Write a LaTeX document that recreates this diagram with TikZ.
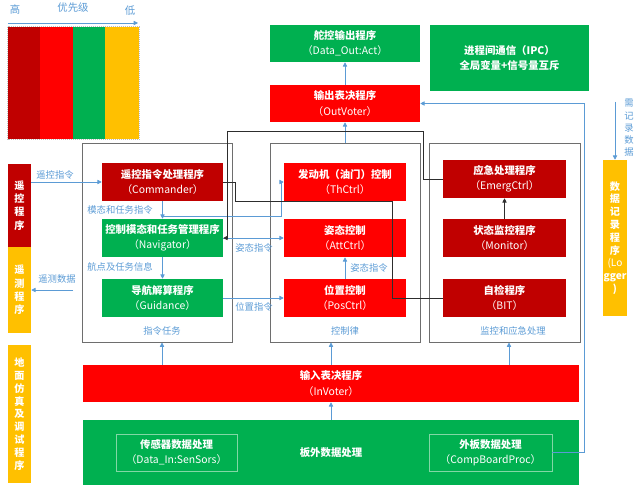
\documentclass[tikz,border=0pt]{standalone}
\usepackage{fontspec}
\setmainfont{Noto Sans CJK SC}
\usetikzlibrary{arrows.meta}
\definecolor{dred}{RGB}{192,0,0}
\definecolor{bred}{RGB}{255,0,0}
\definecolor{grn}{RGB}{0,176,80}
\definecolor{ylw}{RGB}{255,192,0}
\definecolor{lblue}{RGB}{91,155,213}
\definecolor{grpgray}{RGB}{110,110,110}
\definecolor{blk}{RGB}{45,45,45}
\definecolor{inbord}{RGB}{130,215,165}
\newcommand\bx[8][]{\node[boxst,fill=#7,minimum width={(#4-#2)*0.75pt},minimum height={(#5-#3)*0.75pt},#1] (#6) at ({(#2+#4)/2},{(#3+#5)/2}) {#8};}
\newcommand\sub{\mdseries}
\begin{document}
\begin{tikzpicture}[x=0.75pt,y=-0.75pt,
  boxst/.style={rectangle,inner sep=0pt,text=white,align=center,font=\fontsize{7.8}{11.5}\selectfont\bfseries},
  barst/.style={rectangle,inner sep=0pt,text=white,align=center,font=\fontsize{7.6}{10}\selectfont\bfseries},
  grp/.style={rectangle,draw=grpgray,line width=0.75pt,inner sep=0pt,fill=none},
  lbl/.style={text=lblue,font=\fontsize{7}{8}\selectfont,inner sep=0pt},
  barrow/.style={draw=lblue,line width=0.55pt,-{Triangle[width=3.2pt,length=3.2pt]}},
  blkline/.style={draw=blk,line width=0.6pt},
  inbox/.style={draw=inbord,line width=0.6pt}
]
\useasboundingbox (0,0) rectangle (641,495);

% priority legend
\node[lbl,font=\fontsize{7.8}{8}\selectfont] (hi) at (15,10) {高};
\node[lbl,font=\fontsize{7.8}{8}\selectfont] (pri) at (73,8) {优先级};
\node[lbl,font=\fontsize{7.8}{8}\selectfont] (lo) at (130,11) {低};
\coordinate (pa) at (8,23);
\coordinate (pb) at (138,23);
\draw[barrow] (pa) -- (pb);
\bx{8}{27}{40}{139}{p1}{dred}{}
\bx{40}{27}{73}{139}{p2}{bred}{}
\bx{73}{27}{105}{139}{p3}{grn}{}
\bx{105}{27}{139}{139}{p4}{ylw}{}
\draw[gray!50,densely dotted,line width=0.5pt] (p1.north west) rectangle (p4.south east);

% left bars
\bx[barst]{8}{164}{31}{247}{rc}{dred}{遥\\控\\程\\序}
\bx[barst]{8}{247}{31}{333}{tm}{ylw}{遥\\测\\程\\序}
\bx[barst,font=\fontsize{7.6}{9.6}\selectfont\bfseries]{8}{345}{31}{483}{gs}{ylw}{地\\面\\仿\\真\\及\\调\\试\\程\\序}

% logger bar
\bx[barst,font=\fontsize{7.6}{9.6}\selectfont\bfseries]{603}{160}{627}{316}{lg}{ylw}{数\\据\\记\\录\\程\\序\\\sub(Lo\\gger\\)}

% group boxes
\node[grp,minimum width={150*0.75pt},minimum height={198*0.75pt}] (g1) at (157,243) {};
\node[grp,minimum width={150*0.75pt},minimum height={198*0.75pt}] (g2) at (345,243) {};
\node[grp,minimum width={151*0.75pt},minimum height={198*0.75pt}] (g3) at (504.5,243) {};
\node[lbl] (g1l) at (162,331) {指令任务};
\node[lbl] (g2l) at (345,331) {控制律};
\node[lbl] (g3l) at (513,331) {监控和应急处理};

% top boxes
\bx{270}{25}{420}{62}{do}{grn}{舵控输出程序\\\sub（Data\_Out:Act）}
\bx{270}{85}{420}{122}{ov}{bred}{输出表决程序\\\sub（OutVoter）}
\bx{430}{25}{589}{91}{ipc}{grn}{进程间通信（IPC）\\全局变量+信号量互斥}

% group 1
\bx{102}{163}{223}{201}{cmd}{dred}{遥控指令处理程序\\\sub（Commander）}
\bx{102}{219}{223}{257}{nav}{grn}{控制模态和任务管理程序\\\sub（Navigator）}
\bx{102}{279}{223}{317}{gui}{grn}{导航解算程序\\\sub（Guidance）}

% group 2
\bx{284}{163}{406}{201}{th}{bred}{发动机（油门）控制\\\sub（ThCtrl）}
\bx{284}{219}{406}{257}{att}{bred}{姿态控制\\\sub（AttCtrl）}
\bx{284}{279}{406}{317}{pos}{bred}{位置控制\\\sub（PosCtrl）}

% group 3
\bx{443}{160}{566}{198}{em}{dred}{应急处理程序\\\sub（EmergCtrl）}
\bx{443}{219}{566}{257}{mon}{dred}{状态监控程序\\\sub（Monitor）}
\bx{443}{279}{566}{317}{bit}{dred}{自检程序\\\sub（BIT）}

% bottom
\bx{83}{365}{579}{402}{iv}{bred}{输入表决程序\\\sub（InVoter）}
\bx{83}{420}{579}{485}{bd}{grn}{板外数据处理}
\bx[inbox]{116}{434}{237}{471}{sen}{grn}{传感器数据处理\\\sub（Data\_In:SenSors）}
\bx[inbox]{429}{434}{552}{471}{cbp}{grn}{外板数据处理\\\sub（CompBoardProc）}

% blue connectors
\draw[barrow] (rc.east |- cmd.west) -- (cmd.west);
\node[lbl] (rcl) at (55,175) {遥控指令};
\coordinate (tmsrc) at (73,290);
\draw[barrow] (tmsrc) -- (tm.east |- tmsrc);
\node[lbl] (tml) at (57,279) {遥测数据};
\draw[barrow] (cmd.south) -- (nav.north);
\node[lbl] (cmdl) at (120,210) {模态和任务指令};
\draw[barrow] (nav.south) -- (gui.north);
\node[lbl] (navl) at (120,267) {航点及任务信息};
\coordinate (j1) at (162.5,216);
\draw[barrow] (j1) -- (281,216) |- (th.west);
\draw[barrow] (nav.east) -- (att.west);
\node[lbl] (attl) at (254,248) {姿态指令};
\draw[barrow] (gui.east) -- (pos.west);
\node[lbl] (posl) at (254,307) {位置指令};
\draw[barrow] (pos.north) -- (att.south);
\node[lbl] (att2l) at (369,268) {姿态指令};
\draw[barrow] (g2.north) -- (ov.south);
\draw[barrow] (ov.north) -- (do.south);
\draw[barrow] (iv.north -| 162,0) -- (g1.south -| 162,0);
\draw[barrow] (iv.north -| 331,0) -- (g2.south -| 331,0);
\draw[barrow] (iv.north -| 509,0) -- (g3.south -| 509,0);
\draw[barrow] (bd.north -| 331,0) -- (iv.south -| 331,0);
\draw[barrow] (cbp.east) -- (584,452.5) |- (ov.east);
\coordinate (logsrc) at (615,102);
\draw[barrow] (logsrc) -- (lg.north);
\node[lbl,align=center,font=\fontsize{7}{9.2}\selectfont] (lgl) at (629,128) {需\\记\\录\\数\\据};

% black connectors
\draw[barrow,draw=blk] (mon.north) -- (em.south);
\draw[blkline,-{Triangle[width=3.2pt,length=3.2pt]}] (em.west) -| (423,131) -| (227,238) -- (nav.east);
\draw[blkline] (cmd.east) -- (235,182) |- (392,201) |- (bit.west);
\end{tikzpicture}
\end{document}
